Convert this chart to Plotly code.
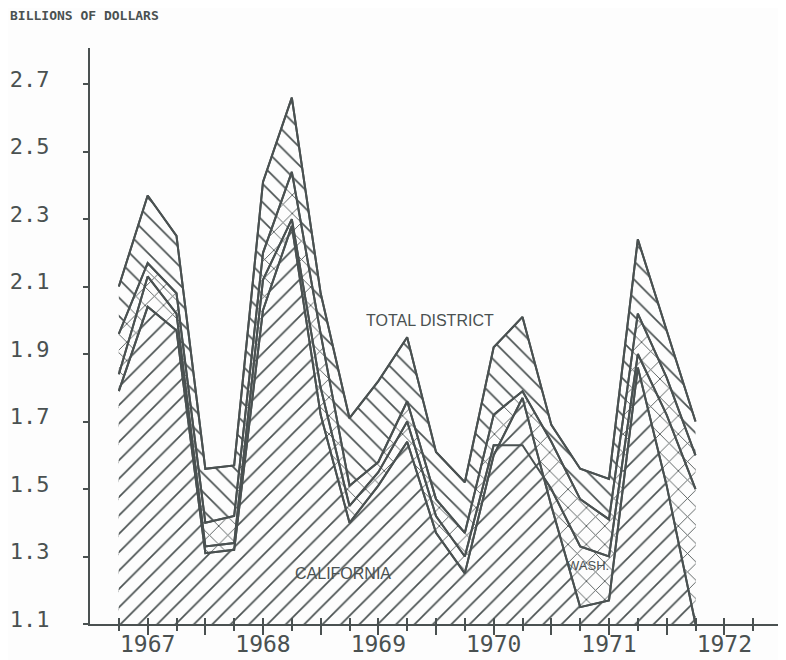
import plotly.graph_objects as go

INK = "#4a5151"
PAPER = "#fdfdfd"

# quarterly points, 1966 Q4 .. 1971 Q4
quarters = [1966.75, 1967.0, 1967.25, 1967.5, 1967.75, 1968.0, 1968.25,
            1968.5, 1968.75, 1969.0, 1969.25, 1969.5, 1969.75, 1970.0,
            1970.25, 1970.5, 1970.75, 1971.0, 1971.25, 1971.5, 1971.75]

total_district = [2.10, 2.37, 2.25, 1.56, 1.57, 2.41, 2.66, 2.08, 1.71, 1.82,
                  1.95, 1.61, 1.52, 1.92, 2.01, 1.69, 1.56, 1.53, 2.24, 1.97, 1.70]
upper_band = [1.96, 2.17, 2.08, 1.40, 1.42, 2.20, 2.44, 1.96, 1.51, 1.58,
              1.76, 1.47, 1.37, 1.72, 1.79, 1.64, 1.47, 1.41, 2.02, 1.83, 1.60]
wash_band = [1.84, 2.13, 2.02, 1.33, 1.34, 2.12, 2.30, 1.80, 1.45, 1.55,
             1.70, 1.42, 1.30, 1.63, 1.63, 1.50, 1.33, 1.30, 1.90, 1.72, 1.50]
california = [1.79, 2.04, 1.97, 1.31, 1.32, 2.03, 2.28, 1.72, 1.40, 1.51,
              1.64, 1.37, 1.25, 1.60, 1.77, 1.45, 1.15, 1.17, 1.86, 1.51, 1.10]

y_ticks = [1.1, 1.3, 1.5, 1.7, 1.9, 2.1, 2.3, 2.5, 2.7]
year_ticks = [1967, 1967.5, 1968, 1968.5, 1969, 1969.5, 1970, 1970.5,
              1971, 1971.5, 1972, 1972.5]
year_labels = ["1967", "", "1968", "", "1969", "", "1970", "", "1971", "", "1972", ""]
odd_quarters = [1966.75, 1967.25, 1967.75, 1968.25, 1968.75, 1969.25, 1969.75,
                1970.25, 1970.75, 1971.25, 1971.75, 1972.25]
all_quarters = sorted(odd_quarters + year_ticks)

fig = go.Figure()

# ── Hatched areas, back to front (opaque so later ones hide earlier hatching) ──
for vals, shape in [(total_district, "\\"), (upper_band, "x"),
                    (wash_band, "x"), (california, "/")]:
    fig.add_trace(
        go.Scatter(
            x=quarters,
            y=vals,
            mode="lines",
            fill="tozeroy",
            fillcolor=PAPER,
            fillpattern=dict(shape=shape, size=13, solidity=0.13,
                             fgcolor=INK, bgcolor=PAPER, fgopacity=1),
            line=dict(color=INK, width=2),
            hoverinfo="skip",
            showlegend=False,
        )
    )

# ── Outlines redrawn on top (on the overlay axis) ──
for vals in [total_district, upper_band, wash_band, california]:
    fig.add_trace(
        go.Scatter(
            x=quarters,
            y=vals,
            xaxis="x2",
            mode="lines",
            line=dict(color=INK, width=2),
            hoverinfo="skip",
            showlegend=False,
        )
    )

x_range = [1966.5, 1972.5]

# the page body adds an 8px offset, so margins are shifted back by 8px
fig.update_layout(
    width=786,
    height=660,
    paper_bgcolor=PAPER,
    plot_bgcolor=PAPER,
    margin=dict(l=82, r=12, t=40, b=44, autoexpand=False),
    font=dict(family="DejaVu Sans Mono", color=INK),
    xaxis=dict(
        range=x_range,
        automargin=False,
        showgrid=False,
        zeroline=False,
        showline=True,
        linecolor=INK,
        linewidth=2,
        tickmode="array",
        tickvals=year_ticks,
        ticktext=year_labels,
        ticks="outside",
        ticklen=9,
        tickwidth=2,
        tickcolor=INK,
        ticklabelstandoff=-11,
        tickfont=dict(size=23, color=INK, family="DejaVu Sans Mono"),
        minor=dict(tickmode="array", tickvals=odd_quarters, ticks="outside",
                   ticklen=5, tickwidth=2, tickcolor=INK, showgrid=False),
    ),
    xaxis2=dict(
        range=x_range,
        overlaying="x",
        anchor="y",
        side="bottom",
        showgrid=False,
        zeroline=False,
        showline=False,
        tickmode="array",
        tickvals=all_quarters,
        ticks="inside",
        ticklen=6,
        tickwidth=2,
        tickcolor=INK,
        showticklabels=False,
    ),
    yaxis=dict(
        range=[1.1, 2.807],
        automargin=False,
        showgrid=False,
        zeroline=False,
        showline=True,
        linecolor=INK,
        linewidth=2,
        tickmode="array",
        tickvals=y_ticks,
        ticktext=[f"{v:.1f}" for v in y_ticks],
        ticks="outside",
        ticklen=5,
        tickwidth=2,
        tickcolor=INK,
        ticklabelstandoff=29,
        ticklabelshift=-5,
        tickfont=dict(size=22, color=INK, family="DejaVu Sans Mono"),
    ),
    annotations=[
        dict(text="<b>BILLIONS OF DOLLARS</b>", xref="paper", yref="paper",
             x=-0.118, y=1.0556, xanchor="left", yanchor="middle",
             showarrow=False, font=dict(size=13, color=INK, family="DejaVu Sans Mono")),
        dict(text="TOTAL DISTRICT", x=1969.45, y=2.0, showarrow=False,
             font=dict(size=16, color=INK, family="Liberation Sans")),
        dict(text="CALIFORNIA", x=1968.69, y=1.251, showarrow=False,
             font=dict(size=16, color=INK, family="Liberation Sans")),
        dict(text="WASH.", x=1970.82, y=1.272, showarrow=False,
             font=dict(size=13, color=INK, family="Liberation Sans Narrow, Liberation Sans")),
    ],
)

fig.write_html("out.html")
